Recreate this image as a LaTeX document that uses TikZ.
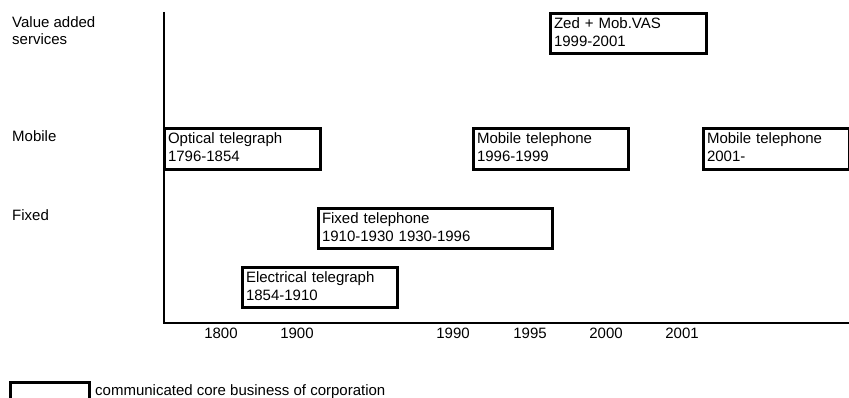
\documentclass[tikz,border=0pt]{standalone}
\usepackage{fontspec}
\setmainfont{Liberation Sans}
\begin{document}
\begin{tikzpicture}[x=1pt,y=-1pt,
  every node/.style={font=\fontsize{15}{18}\selectfont},
  bizbox/.style={draw=black, line width=3pt, anchor=north west, inner xsep=3.5pt, inner ysep=0pt, align=left},
  lbl/.style={anchor=base west, inner sep=0pt},
  tick/.style={anchor=base, inner sep=0pt},
  axis/.style={draw=black, line width=2pt}]
\useasboundingbox (0,0) rectangle (849,398);
\clip (0,0) rectangle (849,398);
% axes
\coordinate (atop) at (164,12);
\coordinate (aorig) at (164,323);
\coordinate (aright) at (850,323);
\draw[axis] (atop) -- (aorig) -- (aright);
% row labels
\node[lbl] (lvas1) at (12,28) {Value added};
\node[lbl] (lvas2) at (12,45) {services};
\node[lbl] (lmob) at (12,142) {Mobile};
\node[lbl] (lfix) at (12,221) {Fixed};
% boxes
\node[bizbox, minimum width=156, minimum height=41, text width=149] (opt) at (163,127) {\strut Optical telegraph\\\strut 1796-1854};
\node[bizbox, minimum width=155, minimum height=41, text width=148] (mob1) at (472,127) {\strut Mobile telephone\\\strut 1996-1999};
\node[bizbox, minimum width=146, minimum height=41, text width=139] (mob2) at (702,127) {\strut Mobile telephone\\\strut 2001-};
\node[bizbox, minimum width=156, minimum height=40, text width=149] (zed) at (549,12) {\strut Zed + Mob.VAS\\\strut 1999-2001};
\node[bizbox, minimum width=234, minimum height=40, text width=227] (fix) at (317,207) {\strut Fixed telephone\\\strut 1910-1930 1930-1996};
\node[bizbox, minimum width=155, minimum height=40, text width=148] (elt) at (241,266) {\strut Electrical telegraph\\\strut 1854-1910};
% ticks
\node[tick] (t1800) at (221,338) {1800};
\node[tick] (t1900) at (297,338) {1900};
\node[tick] (t1990) at (453,338) {1990};
\node[tick] (t1995) at (530,338) {1995};
\node[tick] (t2000) at (606,338) {2000};
\node[tick] (t2001) at (682,338) {2001};
% legend
\node[bizbox, minimum width=79, minimum height=30] (leg) at (9,381) {};
\node[lbl] (legt) at (95,395) {communicated core business of corporation};
\end{tikzpicture}
\end{document}
